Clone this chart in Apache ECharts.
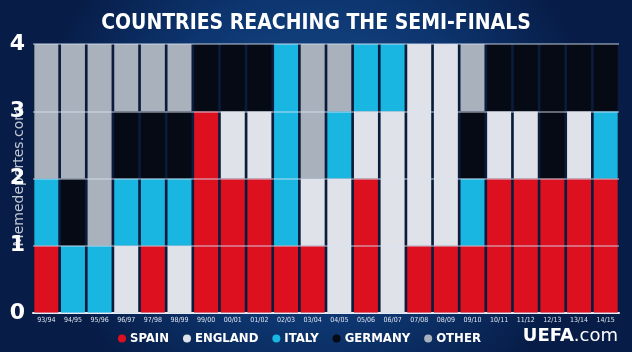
<!DOCTYPE html>
<html>
<head>
<meta charset="utf-8">
<script src="https://cdn.jsdelivr.net/npm/echarts@6/dist/echarts.min.js"></script>
<style>
  html, body { margin: 0; padding: 0; background: #0a2a5e; }
  #chart { width: 632px; height: 352px; }
</style>
</head>
<body>
<div id="chart"></div>
<script>
// seasons and how many semi-finalists each country had
const seasons = ["93/94", "94/95", "95/96", "96/97", "97/98", "98/99", "99/00", "00/01", "01/02", "02/03", "03/04",
    "04/05", "05/06", "06/07", "07/08", "08/09", "09/10", "10/11", "11/12", "12/13", "13/14", "14/15"];
const spain   = [1, 0, 0, 0, 1, 0, 3, 2, 2, 1, 1, 0, 2, 0, 1, 1, 1, 2, 2, 2, 2, 2];
const england = [0, 0, 0, 1, 0, 1, 0, 1, 1, 0, 1, 2, 1, 3, 3, 3, 0, 1, 1, 0, 1, 0];
const italy   = [1, 1, 1, 1, 1, 1, 0, 0, 0, 3, 0, 1, 1, 1, 0, 0, 1, 0, 0, 0, 0, 1];
const germany = [0, 1, 0, 1, 1, 1, 1, 1, 1, 0, 0, 0, 0, 0, 0, 0, 1, 1, 1, 2, 1, 1];
const other   = [2, 2, 3, 1, 1, 1, 0, 0, 0, 0, 2, 1, 0, 0, 0, 0, 1, 0, 0, 0, 0, 0];
const yTicks = [0, 1, 2, 3, 4];

const countries = [
    { name: "SPAIN", data: spain, color: "#dd1020" },
    { name: "ENGLAND", data: england, color: "#dfe2e8" },
    { name: "ITALY", data: italy, color: "#19b6e2" },
    { name: "GERMANY", data: germany, color: "#060a14" },
    { name: "OTHER", data: other, color: "#a9b1bd" },
];

const chart = echarts.init(document.getElementById("chart"));

const option = {
    backgroundColor: {
        type: "radial", x: 0.5, y: 0.45, r: 0.8,
        colorStops: [
            { offset: 0, color: "#18508f" },
            { offset: 0.6, color: "#0d356f" },
            { offset: 1, color: "#071d48" },
        ],
    },
    textStyle: { fontFamily: "DejaVu Sans Condensed" },
    title: {
        text: "COUNTRIES REACHING THE SEMI-FINALS",
        left: "center",
        top: 8,
        textStyle: { color: "#ffffff", fontSize: 21, fontWeight: "bold", fontFamily: "DejaVu Sans Condensed" },
    },
    legend: {
        top: 327,
        left: 113,
        icon: "circle",
        itemWidth: 8,
        itemHeight: 8,
        itemGap: 14,
        textStyle: { color: "#ffffff", fontSize: 13, fontWeight: "bold", fontFamily: "DejaVu Sans Condensed", padding: [0, 0, 0, -1] },
        data: countries.map((c) => c.name),
    },
    grid: {
        left: 33, right: 13, top: 44, bottom: 39,
        show: true, backgroundColor: "#0a1b3c", borderWidth: 0,
    },
    xAxis: {
        type: "category",
        data: seasons,
        axisLine: { lineStyle: { color: "#f2f4f8", width: 2 } },
        axisTick: { show: false },
        axisLabel: { color: "#dfe6f0", fontSize: 7, margin: 4, interval: 0 },
    },
    yAxis: {
        type: "value",
        min: yTicks[0],
        max: yTicks[yTicks.length - 1],
        interval: 1,
        z: 5,
        axisLine: { show: false },
        axisTick: { show: false },
        axisLabel: { color: "#ffffff", fontSize: 22, fontWeight: "bold", margin: 8, fontFamily: "DejaVu Sans" },
        splitLine: { lineStyle: { color: "rgba(215,225,240,0.6)", width: 1.5 } },
    },
    graphic: [
        {
            type: "text",
            left: 12,
            top: 107,
            rotation: Math.PI / 2,
            style: { text: "Memedeportes.com", fill: "rgba(255,255,255,0.75)", fontSize: 14, fontFamily: "DejaVu Sans" },
        },
        {
            type: "text",
            right: 14,
            top: 327,
            style: {
                text: "{b|UEFA}{n|.com}",
                rich: {
                    b: { fill: "#ffffff", fontSize: 18, fontWeight: "bold", fontFamily: "DejaVu Sans" },
                    n: { fill: "#ffffff", fontSize: 18, fontFamily: "DejaVu Sans" },
                },
            },
        },
    ],
    series: countries.map((c) => ({
        name: c.name,
        type: "bar",
        stack: "semi",
        barCategoryGap: "10%",
        itemStyle: { color: c.color },
        data: c.data,
    })),
};

chart.setOption(option);
window.addEventListener("resize", () => chart.resize());
</script>
</body>
</html>
